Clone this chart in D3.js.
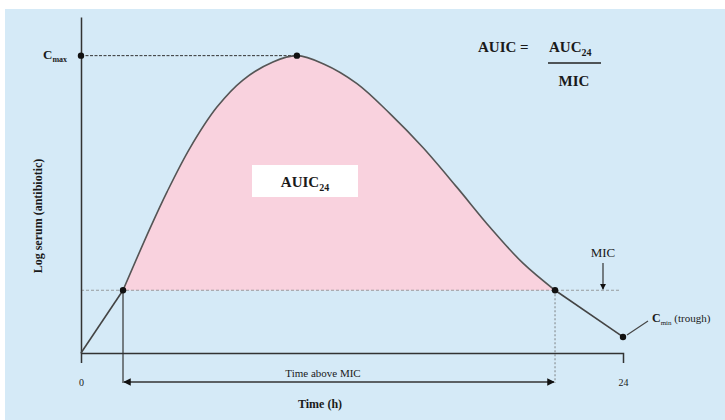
<!DOCTYPE html>
<html>
<head>
<meta charset="utf-8">
<script src="https://cdn.jsdelivr.net/npm/d3@7"></script>
<style>
  body { margin: 0; background: #ffffff; }
  text { font-family: "Liberation Serif", "DejaVu Serif", serif; fill: #1a1a1a; }
</style>
</head>
<body>
<div id="chart"></div>
<script>
// serum concentration curve (time in hours, log serum in arbitrary units)
var timeH = [0, 1.86, 3.06, 3.81, 4.83, 6.02, 7.17, 8.5, 9.56, 10.72, 12.22, 13.68, 15.14, 16.65, 18.11, 19.57, 20.99, 24];
var serum = [0, 2.11, 4.2, 5.42, 6.9, 8.27, 9.18, 9.79, 10, 9.73, 9.06, 8.05, 6.91, 5.57, 4.23, 3.02, 2.11, 0.54];

// key levels
var micLevel = 2.11;
var cMax = 10;
var peakTime = 9.56;
var micStart = 1.86;
var micEnd = 20.99;
var troughTime = 24;
var troughLevel = 0.54;
var xTicks = [0, 24];

var svgWidth = 725;
var svgHeight = 420;

var svg = d3.select("#chart")
  .append("svg")
  .attr("width", svgWidth)
  .attr("height", svgHeight);

// light blue panel
svg.append("rect")
  .attr("x", 5)
  .attr("y", 9)
  .attr("width", svgWidth - 5)
  .attr("height", svgHeight - 9)
  .attr("fill", "#d5eaf7");

var x = d3.scaleLinear().domain([0, 24]).range([81, 623]);
var y = d3.scaleLinear().domain([0, 11.3]).range([353, 17]);

var defs = svg.append("defs");
defs.append("marker")
  .attr("id", "arrowEnd")
  .attr("viewBox", "0 0 10 10")
  .attr("refX", 9).attr("refY", 5)
  .attr("markerWidth", 5).attr("markerHeight", 5)
  .attr("orient", "auto-start-reverse")
  .append("path")
  .attr("d", "M0,0 L10,5 L0,10 z")
  .attr("fill", "#111");

var pts = timeH.map(function(t, i) { return { t: t, v: serum[i] }; });
var n = pts.length;
var curvePts = pts.slice(1, n - 1);
var smooth = d3.curveCatmullRom.alpha(0.5);

// pink AUIC area between MIC and curve
var area = d3.area()
  .x(d => x(d.t))
  .y0(y(micLevel))
  .y1(d => y(d.v))
  .curve(smooth);

svg.append("path")
  .datum(curvePts)
  .attr("d", area)
  .attr("fill", "#f9d2de");

// MIC dashed line
svg.append("line")
  .attr("x1", x(0)).attr("x2", x(24) - 4)
  .attr("y1", y(micLevel)).attr("y2", y(micLevel))
  .attr("stroke", "#888")
  .attr("stroke-width", 0.8)
  .attr("stroke-dasharray", "3,2");

// Cmax dashed line
svg.append("line")
  .attr("x1", x(0)).attr("x2", x(peakTime))
  .attr("y1", y(cMax)).attr("y2", y(cMax))
  .attr("stroke", "#333")
  .attr("stroke-width", 1)
  .attr("stroke-dasharray", "3,1.5");

// axes
var bottomAxis = d3.axisBottom(x)
  .tickValues(xTicks)
  .tickSizeInner(0)
  .tickSizeOuter(10)
  .tickPadding(26)
  .tickFormat(d3.format("d"));

var leftAxis = d3.axisLeft(y)
  .tickValues([])
  .tickSizeOuter(0);

var gx = svg.append("g")
  .attr("transform", `translate(0, ${y(0)})`)
  .call(bottomAxis);
gx.select(".domain").attr("stroke", "#333").attr("stroke-width", 1.5);
gx.selectAll("text")
  .attr("font-family", "Liberation Serif")
  .attr("font-size", 10)
  .attr("fill", "#555");

var gy = svg.append("g")
  .attr("transform", `translate(${x(0)}, 0)`)
  .call(leftAxis);
gy.select(".domain").attr("stroke", "#333").attr("stroke-width", 1.5);

// serum curve: ramp, smooth body, tail
var line = d3.line().x(d => x(d.t)).y(d => y(d.v));

svg.append("path")
  .datum(pts.slice(0, 2))
  .attr("d", line.curve(d3.curveLinear))
  .attr("fill", "none").attr("stroke", "#444").attr("stroke-width", 1.6);

svg.append("path")
  .datum(curvePts)
  .attr("d", line.curve(smooth))
  .attr("fill", "none").attr("stroke", "#555").attr("stroke-width", 1.6);

svg.append("path")
  .datum(pts.slice(n - 2))
  .attr("d", line.curve(d3.curveLinear))
  .attr("fill", "none").attr("stroke", "#444").attr("stroke-width", 1.6);

// verticals for time above MIC
svg.append("line")
  .attr("x1", x(micStart)).attr("x2", x(micStart))
  .attr("y1", y(micLevel)).attr("y2", 383)
  .attr("stroke", "#333").attr("stroke-width", 1.2);

svg.append("line")
  .attr("x1", x(micEnd)).attr("x2", x(micEnd))
  .attr("y1", y(micLevel)).attr("y2", 383)
  .attr("stroke", "#666").attr("stroke-width", 0.8)
  .attr("stroke-dasharray", "2,2");

// double arrow
svg.append("line")
  .attr("x1", x(micStart) + 1).attr("x2", x(micEnd) - 1)
  .attr("y1", 382).attr("y2", 382)
  .attr("stroke", "#333").attr("stroke-width", 1.5)
  .attr("marker-start", "url(#arrowEnd)")
  .attr("marker-end", "url(#arrowEnd)");

// dots
var dots = [
  { t: 0, v: cMax },
  { t: peakTime, v: cMax },
  { t: micStart, v: micLevel },
  { t: micEnd, v: micLevel },
  { t: troughTime, v: troughLevel }
];
svg.selectAll("circle.dot")
  .data(dots)
  .enter()
  .append("circle")
  .attr("class", "dot")
  .attr("cx", d => x(d.t))
  .attr("cy", d => y(d.v))
  .attr("r", 3.2)
  .attr("fill", "#111");

// MIC arrow and label
svg.append("line")
  .attr("x1", 603).attr("x2", 603)
  .attr("y1", 263).attr("y2", y(micLevel) - 1)
  .attr("stroke", "#333").attr("stroke-width", 1.2)
  .attr("marker-end", "url(#arrowEnd)");

svg.append("text")
  .attr("x", 603).attr("y", 257)
  .attr("text-anchor", "middle")
  .attr("font-size", 13)
  .text("MIC");

// trough pointer and label
svg.append("line")
  .attr("x1", x(troughTime) + 4).attr("y1", y(troughLevel) - 2)
  .attr("x2", 648).attr("y2", 321)
  .attr("stroke", "#444").attr("stroke-width", 1.1);

var cmin = svg.append("text")
  .attr("x", 652).attr("y", 322)
  .attr("font-size", 11);
cmin.append("tspan").attr("font-size", 12).attr("font-weight", "bold").text("C");
cmin.append("tspan").attr("font-size", 7).attr("dy", 3).text("min");
cmin.append("tspan").attr("dy", -3).text(" (trough)");

// Cmax label
var cmax = svg.append("text")
  .attr("x", 43).attr("y", 59)
  .attr("font-size", 13)
  .attr("font-weight", "bold");
cmax.append("tspan").text("C");
cmax.append("tspan").attr("font-size", 8).attr("dy", 3).text("max");

// axis labels
svg.append("text")
  .attr("transform", "rotate(-90)")
  .attr("x", -216).attr("y", 42)
  .attr("text-anchor", "middle")
  .attr("font-size", 12)
  .attr("font-weight", "bold")
  .text("Log serum (antibiotic)");

svg.append("text")
  .attr("x", 323).attr("y", 377)
  .attr("text-anchor", "middle")
  .attr("font-size", 11)
  .text("Time above MIC");

svg.append("text")
  .attr("x", 320).attr("y", 408)
  .attr("text-anchor", "middle")
  .attr("font-size", 12)
  .attr("font-weight", "bold")
  .text("Time (h)");

// AUIC24 box
svg.append("rect")
  .attr("x", 252).attr("y", 165)
  .attr("width", 106).attr("height", 32)
  .attr("fill", "#ffffff");

var auic = svg.append("text")
  .attr("x", 305).attr("y", 187)
  .attr("text-anchor", "middle")
  .attr("font-size", 15)
  .attr("font-weight", "bold");
auic.append("tspan").text("AUIC");
auic.append("tspan").attr("font-size", 10).attr("dy", 4).text("24");

// formula
svg.append("text")
  .attr("x", 478).attr("y", 52)
  .attr("font-size", 15)
  .attr("font-weight", "bold")
  .text("AUIC =");

var auc = svg.append("text")
  .attr("x", 549).attr("y", 52)
  .attr("font-size", 15)
  .attr("font-weight", "bold");
auc.append("tspan").text("AUC");
auc.append("tspan").attr("font-size", 10).attr("dy", 4).text("24");

svg.append("line")
  .attr("x1", 548).attr("x2", 601)
  .attr("y1", 63).attr("y2", 63)
  .attr("stroke", "#222").attr("stroke-width", 1.5);

svg.append("text")
  .attr("x", 574).attr("y", 86)
  .attr("text-anchor", "middle")
  .attr("font-size", 15)
  .attr("font-weight", "bold")
  .text("MIC");
</script>
</body>
</html>
